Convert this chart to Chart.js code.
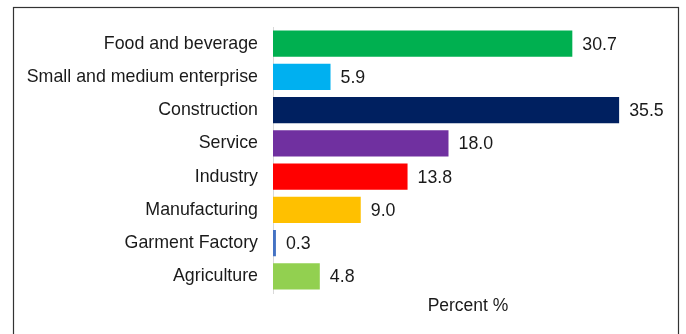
<!DOCTYPE html>
<html>
<head>
<meta charset="utf-8">
<script src="https://cdn.jsdelivr.net/npm/chart.js@4/dist/chart.umd.min.js"></script>
<style>
  html, body { margin: 0; padding: 0; background: #fff; }
  #wrap { position: relative; width: 686px; height: 334px; }
</style>
</head>
<body>
<div id="wrap"><canvas id="myChart" width="686" height="334"></canvas></div>
<script>
// data
const categories = ['Food and beverage', 'Small and medium enterprise', 'Construction', 'Service',
  'Industry', 'Manufacturing', 'Garment Factory', 'Agriculture'];
const percentValues = [30.7, 5.9, 35.5, 18.0, 13.8, 9.0, 0.3, 4.8];
const barColors = ['#00B050', '#00B0F0', '#002060', '#7030A0', '#FF0000', '#FFC000', '#4472C4', '#92D050'];
const axisTitle = 'Percent %';

const FONT = "'Liberation Sans', Arial, sans-serif";

// outer frame around the whole chart
const framePlugin = {
  id: 'frame',
  beforeDraw(chart) {
    const c = chart.ctx;
    c.save();
    c.strokeStyle = '#333333';
    c.lineWidth = 1.2;
    c.strokeRect(13.5, 7.5, 665, 340);
    c.restore();
  }
};

// value labels at the end of each bar
const valueLabels = {
  id: 'valueLabels',
  afterDatasetsDraw(chart) {
    const c = chart.ctx;
    const meta = chart.getDatasetMeta(0);
    c.save();
    c.font = '17.8px ' + FONT;
    c.fillStyle = '#1a1a1a';
    c.textAlign = 'left';
    c.textBaseline = 'middle';
    meta.data.forEach((bar, i) => {
      c.fillText(percentValues[i].toFixed(1), bar.x + 10, bar.y + 1);
    });
    c.restore();
  }
};

const ctx = document.getElementById('myChart').getContext('2d');
new Chart(ctx, {
  type: 'bar',
  data: {
    labels: categories,
    datasets: [{
      data: percentValues,
      backgroundColor: barColors,
      borderWidth: 0,
      barPercentage: 0.79,
      categoryPercentage: 1.0
    }]
  },
  options: {
    indexAxis: 'y',
    responsive: false,
    animation: false,
    layout: { padding: { top: 27, right: 23, bottom: 13, left: 0 } },
    plugins: { legend: { display: false }, tooltip: { enabled: false } },
    scales: {
      x: {
        min: 0,
        max: 40,
        grid: { display: false, drawTicks: false },
        border: { display: false },
        ticks: { display: false },
        title: {
          display: true,
          text: axisTitle,
          color: '#1a1a1a',
          font: { family: FONT, size: 17.5 },
          padding: { top: 3, bottom: 4 }
        }
      },
      y: {
        grid: { display: false, drawTicks: false },
        border: { display: true, color: '#d9d9d9', width: 1 },
        ticks: {
          color: '#1a1a1a',
          padding: 15,
          font: { family: FONT, size: 17.8 }
        },
        afterFit(scale) { scale.width = 273; }
      }
    }
  },
  plugins: [framePlugin, valueLabels]
});
</script>
</body>
</html>
